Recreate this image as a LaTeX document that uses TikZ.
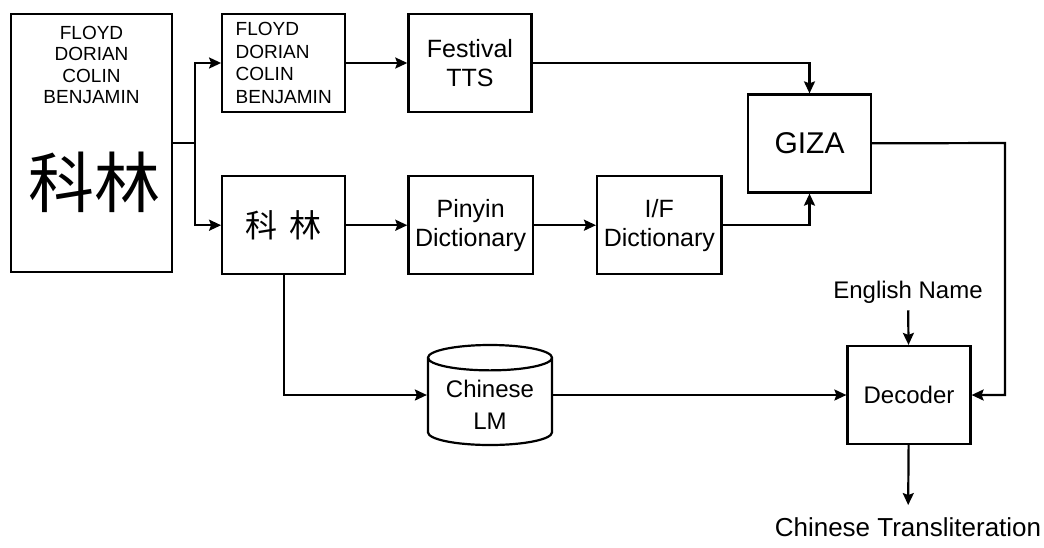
\documentclass[tikz,border=0pt]{standalone}
\usepackage{fontspec}
\setmainfont{Liberation Sans}
\newfontfamily\cjk{Noto Sans CJK SC}
\usetikzlibrary{shapes.geometric, arrows.meta, positioning}
\tikzstyle{block}   = [rectangle, minimum width=61.5pt, minimum height=49pt,
                       text centered, align=center, draw=black, line width=1.1pt,
                       font=\fontsize{12.5}{14.5}\selectfont]
\tikzstyle{namebox} = [block, align=left, font=\fontsize{9.5}{11.25}\selectfont]
\tikzstyle{store}   = [cylinder, shape border rotate=90, aspect=0.25, minimum width=62pt,
                       minimum height=50pt, align=center, draw=black, line width=1.1pt,
                       font=\fontsize{12}{16}\selectfont]
\tikzstyle{caption} = [font=\fontsize{12}{14}\selectfont]
\tikzstyle{arrow}   = [-{Stealth[length=6pt, width=5.5pt, inset=1pt]}, line width=1.1pt]

\begin{document}
\begin{tikzpicture}[x=0.5pt, y=-0.5pt, node distance=30.5pt]
    \useasboundingbox (0,0) rectangle (1044,547);

    \node (src) [block, minimum width=80.5pt, minimum height=129pt] at (91.5,143) {};
    \node (srcnames) [below=3pt of src.north, align=center, font=\fontsize{9.5}{10.75}\selectfont] {FLOYD\\DORIAN\\COLIN\\BENJAMIN};
    \node (srchanzi) [font=\cjk\fontsize{33}{33}\selectfont] at (94,182) {科林};

    \node (names) [namebox, right=24pt of src.north east, anchor=north west] {FLOYD\\DORIAN\\COLIN\\BENJAMIN};
    \node (tts) [block, right=of names] {Festival\\TTS};

    \node (hanzi) [block, below=31pt of names, font=\cjk\fontsize{16}{16}\selectfont] {科\hspace{6pt}林};
    \node (pinyin) [block, right=of hanzi] {Pinyin\\Dictionary};
    \node (ifdict) [block, right=31pt of pinyin] {I/F\\Dictionary};

    \node (giza) [block, font=\fontsize{15}{15}\selectfont] at (809.5,143.5) {GIZA};

    \node (lm) [store, anchor=shape center] at (490,395) {Chinese\\LM};
    \node (decoder) [block, font=\fontsize{12}{14}\selectfont] at (909,395) {Decoder};
    \node (ename) [caption] at (908,292) {English Name};
    \node (out) [caption, font=\fontsize{13}{15}\selectfont, inner sep=6pt] at (908,527) {Chinese Transliteration};

    \coordinate (fork) at (195,143);
    \coordinate (bend) at (1005,143);

    \draw[line width=1.1pt] (src) -- (fork);
    \draw[arrow] (fork) |- (names);
    \draw[arrow] (fork) |- (hanzi);
    \draw[arrow] (names) -- (tts);
    \draw[arrow] (tts) -| (giza);
    \draw[arrow] (hanzi) -- (pinyin);
    \draw[arrow] (pinyin) -- (ifdict);
    \draw[arrow] (ifdict) -| (giza);
    \draw[arrow] (giza) -- (bend) |- (decoder);
    \draw[arrow] (hanzi) |- (lm.west |- lm.shape center);
    \draw[arrow] (lm.east |- lm.shape center) -- (decoder);
    \draw[arrow] (ename) -- (decoder);
    \draw[arrow] (decoder) -- (out);
\end{tikzpicture}
\end{document}
